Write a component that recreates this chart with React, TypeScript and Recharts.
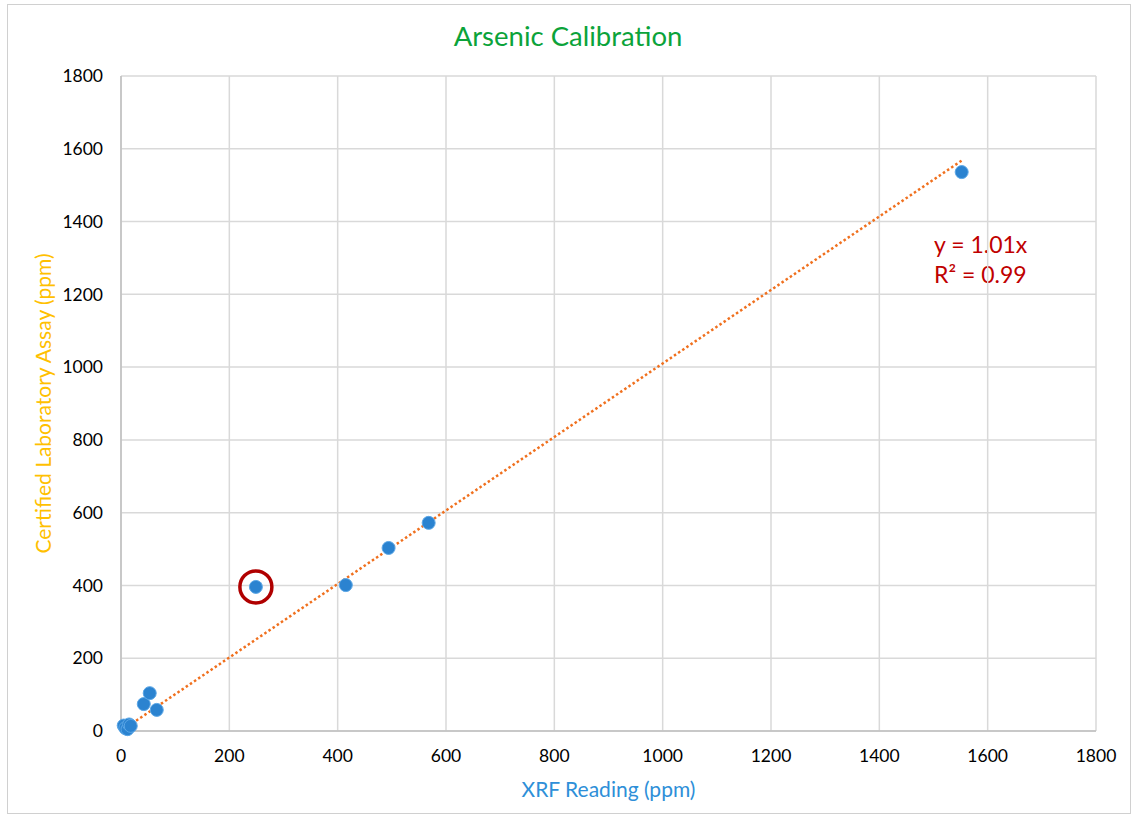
import React from 'react';
import {
  CartesianGrid,
  Label,
  ReferenceDot,
  ReferenceLine,
  Scatter,
  ScatterChart,
  XAxis,
  YAxis,
} from 'recharts';

// XRF reading (ppm) vs certified lab assay (ppm)
const xrfReading = [5, 8, 12, 15, 18, 42, 53, 66, 249, 415, 494, 568, 1552];
const labAssay = [15, 8, 5, 18, 14, 74, 104, 58, 396, 401, 503, 572, 1536];
const xTicks = [0, 200, 400, 600, 800, 1000, 1200, 1400, 1600, 1800];
const yTicks = [0, 200, 400, 600, 800, 1000, 1200, 1400, 1600, 1800];
const slope = 1.01;
const outlier = { x: 249, y: 396 };

const points = xrfReading.map((x, i) => ({ x, y: labAssay[i] }));
const xMin = Math.min(...xrfReading);
const xMax = Math.max(...xrfReading);

const FONT = 'Lato, "Open Sans", sans-serif';

const Marker = (props: any) => {
  const { cx, cy } = props;
  return <circle cx={cx} cy={cy} r={6.5} fill="#2b83d0" stroke="#5aa6e6" strokeWidth={1} />;
};

export default function App() {
  return (
    <div style={{ position: 'absolute', left: 0, top: 0, width: 1136, height: 820, background: '#fff', fontFamily: FONT }}>
      <div
        style={{
          position: 'absolute',
          left: 7,
          top: 4,
          width: 1124,
          height: 810,
          border: '1px solid #d0d0d0',
          boxSizing: 'border-box',
        }}
      />
      <div
        style={{
          position: 'absolute',
          top: 18,
          left: 0,
          width: 1136,
          textAlign: 'center',
          color: '#0ba33a',
          fontSize: 27.5,
          lineHeight: '36px',
        }}
      >
        Arsenic Calibration
      </div>
      <div
        style={{
          position: 'absolute',
          left: 934,
          top: 229,
          color: '#c00000',
          fontSize: 23,
          lineHeight: '30px',
        }}
      >
        <div>y = 1.01x</div>
        <div>R² = 0.99</div>
      </div>
      <div style={{ position: 'absolute', left: 0, top: 0 }}>
        <ScatterChart
          width={1136}
          height={820}
          margin={{ top: 76, right: 40, bottom: 19, left: 0 }}
          style={{ fontFamily: FONT }}
        >
          <CartesianGrid stroke="#d9d9d9" strokeWidth={1.5} />
          <XAxis
            type="number"
            dataKey="x"
            domain={[0, 1800]}
            ticks={xTicks}
            tickLine={false}
            tickSize={6}
            tickMargin={13}
            height={70}
            axisLine={{ stroke: '#bfbfbf', strokeWidth: 1.5 }}
            tick={{ fill: '#000', fontSize: 17.5 }}
          >
            <Label
              value="XRF Reading (ppm)"
              position="insideBottom"
              offset={4}
              fill="#2e8fd8"
              fontSize={21}
            />
          </XAxis>
          <YAxis
            type="number"
            dataKey="y"
            domain={[0, 1800]}
            ticks={yTicks}
            tickLine={false}
            tickSize={6}
            tickMargin={12}
            width={121}
            axisLine={{ stroke: '#bfbfbf', strokeWidth: 1.5 }}
            tick={{ fill: '#000', fontSize: 17.5 }}
          >
            <Label
              value="Certified Laboratory Assay (ppm)"
              angle={-90}
              position="insideLeft"
              offset={44}
              fill="#ffc000"
              fontSize={21}
              style={{ textAnchor: 'middle' }}
            />
          </YAxis>
          <Scatter data={points} shape={<Marker />} isAnimationActive={false} />
          <ReferenceLine
            segment={[
              { x: xMin, y: slope * xMin },
              { x: xMax, y: slope * xMax },
            ]}
            stroke="#f0701e"
            strokeWidth={2.5}
            strokeDasharray="2.5 2.5"
          />
          <ReferenceDot
            x={outlier.x}
            y={outlier.y}
            r={16}
            fill="none"
            stroke="#b00000"
            strokeWidth={3.5}
          />
        </ScatterChart>
      </div>
    </div>
  );
}
